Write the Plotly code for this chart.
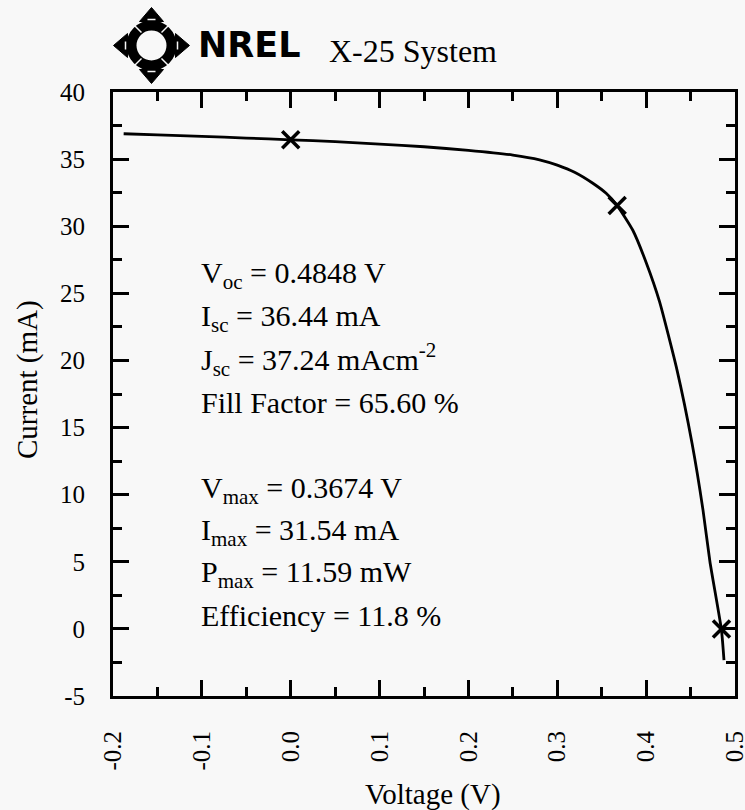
import plotly.graph_objects as go

# ---- data ----
voltage = [-0.188, -0.15, -0.10, -0.05, 0.0, 0.05, 0.10, 0.15, 0.20, 0.25, 0.28, 0.30,
           0.32, 0.34, 0.355, 0.3674, 0.385, 0.40, 0.415, 0.4347, 0.4516, 0.464, 0.4718,
           0.4848, 0.4876]
current = [36.89, 36.80, 36.70, 36.57, 36.44, 36.30, 36.12, 35.92, 35.65, 35.30, 34.95, 34.55,
           34.0, 33.2, 32.45, 31.54, 29.7, 27.3, 24.4, 19.3, 13.85, 8.85, 5.0,
           -0.1, -2.33]

marker_v = [0.0, 0.3674, 0.4848]
marker_i = [36.44, 31.54, 0.0]

x_tickvals = [-0.2, -0.1, 0.0, 0.1, 0.2, 0.3, 0.4, 0.5]
x_ticktext = ["-0.2", "-0.1", "0.0", "0.1", "0.2", "0.3", "0.4", "0.5"]
y_tickvals = [-5, 0, 5, 10, 15, 20, 25, 30, 35, 40]
y_ticktext = ["-5", "0", "5", "10", "15", "20", "25", "30", "35", "40"]

info_lines_1 = ["V<sub>oc</sub> = 0.4848 V", "I<sub>sc</sub> = 36.44 mA",
                "J<sub>sc</sub> = 37.24 mAcm<sup>-2</sup>", "Fill Factor = 65.60 %"]
info_lines_2 = ["V<sub>max</sub> = 0.3674 V", "I<sub>max</sub> = 31.54 mA",
                "P<sub>max</sub> = 11.59 mW", "Efficiency = 11.8 %"]

title_text = "X-25 System"
logo_text = "NREL"
x_title = "Voltage (V)"
y_title = "Current (mA)"

# ---- layout geometry ----
W, H = 745, 810
L, R, T, B = 113, 10, 92, 114
PW = W - L - R
PH = H - T - B


def px(xp):
    return (xp - L) / PW


def py(yp):
    return (H - B - yp) / PH


SERIF = "Liberation Serif"
BG = "#f8f8f8"

fig = go.Figure()
fig.add_trace(go.Scatter(x=voltage, y=current, mode="lines",
                         line=dict(color="black", width=2.8, shape="spline", smoothing=0.5),
                         hoverinfo="skip", showlegend=False))
fig.add_trace(go.Scatter(x=marker_v, y=marker_i, mode="markers",
                         marker=dict(symbol="x-thin", size=17, color="black",
                                     line=dict(color="black", width=3.5)),
                         showlegend=False))

tick_font = dict(family=SERIF, size=25, color="black")

fig.update_layout(
    template="none",
    xaxis=dict(range=[-0.2, 0.5], tickmode="array", tickvals=x_tickvals, ticktext=x_ticktext,
               tickangle=-90, ticklabelstandoff=22, ticklabeloverflow="allow",
               tickfont=tick_font,
               showgrid=False, zeroline=False, showline=True, linecolor="black",
               linewidth=3, mirror="ticks", ticks="inside", tickcolor="black",
               tickwidth=2.5, ticklen=16,
               minor=dict(dtick=0.05, tick0=0, ticks="inside", ticklen=9,
                          tickwidth=2.5, tickcolor="black")),
    yaxis=dict(range=[-5, 40], tickmode="array", tickvals=y_tickvals, ticktext=y_ticktext,
               ticklabelstandoff=20, ticklabeloverflow="allow",
               tickfont=tick_font,
               showgrid=False, zeroline=False, showline=True, linecolor="black",
               linewidth=3, mirror="ticks", ticks="inside", tickcolor="black",
               tickwidth=2.5, ticklen=16,
               minor=dict(dtick=2.5, tick0=0, ticks="inside", ticklen=9,
                          tickwidth=2.5, tickcolor="black")),
)

annotations = []
# info text blocks
centers_1 = [275, 318, 359, 402]
centers_2 = [490, 532, 574, 615]
for txt, yc in zip(info_lines_1 + info_lines_2, centers_1 + centers_2):
    annotations.append(dict(text=txt, xref="paper", yref="paper", x=px(199), y=py(yc),
                            xanchor="left", yanchor="middle", showarrow=False,
                            font=dict(family=SERIF, size=30, color="black")))
# axis titles
annotations.append(dict(text=x_title, xref="paper", yref="paper", x=px(433), y=py(794),
                        xanchor="center", yanchor="middle", showarrow=False,
                        font=dict(family=SERIF, size=29, color="black")))
annotations.append(dict(text=y_title, xref="paper", yref="paper", x=px(27), y=py(380),
                        xanchor="center", yanchor="middle", showarrow=False, textangle=-90,
                        font=dict(family=SERIF, size=29, color="black")))
# header
annotations.append(dict(text="<b>" + logo_text + "</b>", xref="paper", yref="paper",
                        x=px(196), y=py(45), xanchor="left", yanchor="middle", showarrow=False,
                        font=dict(family="DejaVu Sans", size=35, color="black")))
annotations.append(dict(text=title_text, xref="paper", yref="paper", x=px(327), y=py(51),
                        xanchor="left", yanchor="middle", showarrow=False,
                        font=dict(family=SERIF, size=32, color="black")))

# ---- logo drawing ----
cx, cy = 151.5, 45.5
shapes = []
r_ring = 20
shapes.append(dict(type="circle", xref="paper", yref="paper",
                   x0=px(cx - r_ring), x1=px(cx + r_ring), y0=py(cy + r_ring), y1=py(cy - r_ring),
                   line=dict(color="black", width=10), fillcolor="rgba(0,0,0,0)"))


def tri(pts):
    d = "M " + " L ".join("%.5f,%.5f" % (px(a), py(b)) for a, b in pts) + " Z"
    return dict(type="path", xref="paper", yref="paper", path=d,
                fillcolor="black", line=dict(color="black", width=1))


tip, base, hw = 38, 24, 12
shapes.append(tri([(cx, cy - tip), (cx - hw, cy - base), (cx + hw, cy - base)]))
shapes.append(tri([(cx, cy + tip), (cx - hw, cy + base), (cx + hw, cy + base)]))
shapes.append(tri([(cx - tip, cy), (cx - base, cy - hw), (cx - base, cy + hw)]))
shapes.append(tri([(cx + tip, cy), (cx + base, cy - hw), (cx + base, cy + hw)]))
# small white slits suggesting the segmented ring
for (dx0, dy0, dx1, dy1) in [(-4, -26, 4, -26), (-4, 26, 4, 26), (-26, -4, -26, 4), (26, -4, 26, 4),
                             (10, -13, 19, -22), (-10, -13, -19, -22), (10, 13, 19, 22), (-10, 13, -19, 22)]:
    shapes.append(dict(type="line", xref="paper", yref="paper",
                       x0=px(cx + dx0), y0=py(cy + dy0), x1=px(cx + dx1), y1=py(cy + dy1),
                       line=dict(color=BG, width=1.5)))

fig.update_layout(width=W, height=H, margin=dict(l=L, r=R, t=T, b=B, autoexpand=False),
                  paper_bgcolor=BG, plot_bgcolor=BG, showlegend=False,
                  font=dict(family=SERIF, color="black"),
                  annotations=annotations, shapes=shapes)

fig.write_html("out.html")
